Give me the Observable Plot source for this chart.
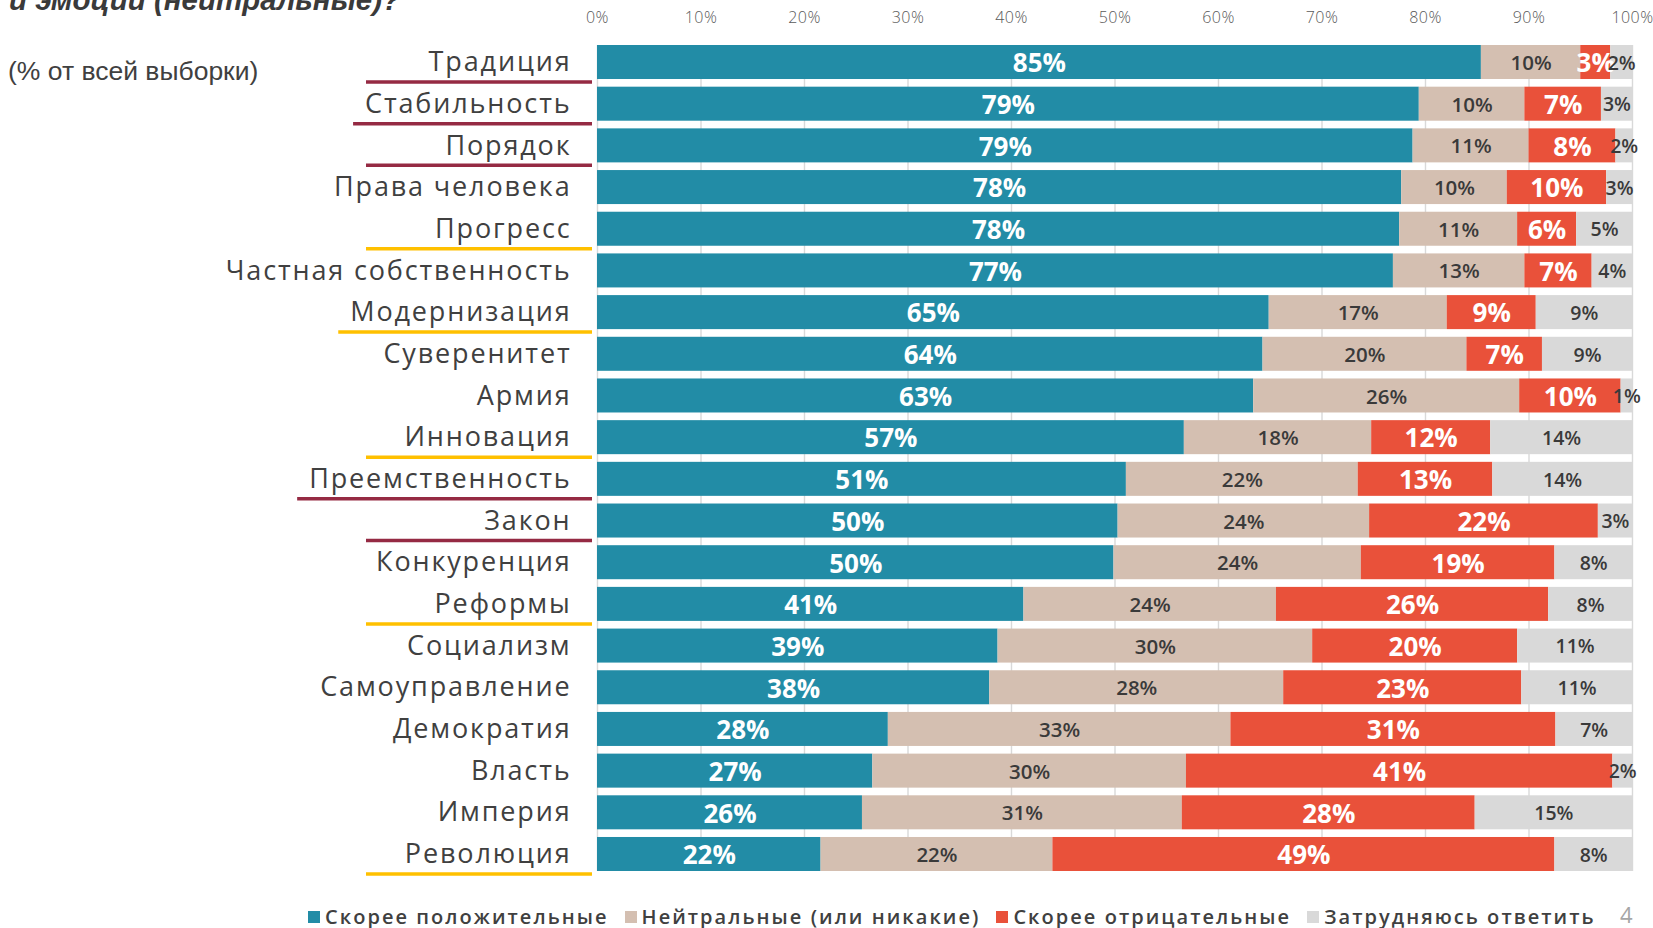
<!DOCTYPE html>
<html lang="ru">
<head>
<meta charset="utf-8">
<script src="https://cdn.jsdelivr.net/npm/d3@7"></script>
<script src="https://cdn.jsdelivr.net/npm/@observablehq/plot@0.6"></script>
<style>
  html, body { margin: 0; padding: 0; background: #fff; overflow: hidden; }
  #page { position: relative; width: 1653px; height: 928px; }
  #title { position: absolute; left: 9px; top: -15px; font: italic bold 29.5px "Liberation Sans", Arial, sans-serif; color: #3a3a3a; line-height: 1; white-space: nowrap; }
  #subtitle { position: absolute; left: 8px; top: 58px; font: 26.5px "Liberation Sans", Arial, sans-serif; color: #404040; line-height: 1; white-space: nowrap; }
  #chart { position: absolute; left: 0; top: 0; }
  #legend { position: absolute; left: 308px; top: 900px; }
  #legend svg { margin-right: 5px !important; }
  #legend div > span { margin-right: 16px !important; }
  #pagenum { position: absolute; left: 1620px; top: 903px; font: 22px "Open Sans", sans-serif; color: #a6a6a6; line-height: 1; }
  g[aria-label="y-axis tick label"] text { letter-spacing: 1.85px; }
  g[aria-label="x-axis tick label"] text { letter-spacing: 0.4px; }
  g[aria-label="big-labels"] text { letter-spacing: 2.5px; }
  g[aria-label="small-labels"] text { letter-spacing: 1.3px; }
</style>
</head>
<body>
<div id="page">
  <div id="chart"></div>
  <div id="title">и эмоций (нейтральные)?</div>
  <div id="subtitle">(% от всей выборки)</div>
  <div id="legend"></div>
  <div id="pagenum">4</div>
</div>
<script>
// ---- Data ----
const categories = [
  "Традиция", "Стабильность", "Порядок", "Права человека", "Прогресс",
  "Частная собственность", "Модернизация", "Суверенитет", "Армия", "Инновация",
  "Преемственность", "Закон", "Конкуренция", "Реформы", "Социализм",
  "Самоуправление", "Демократия", "Власть", "Империя", "Революция"
];
const positive = [85.4, 79.4, 78.8, 77.7, 77.5, 76.9, 64.9, 64.3, 63.4, 56.7, 51.1, 50.3, 49.9, 41.2, 38.7, 37.9, 28.1, 26.6, 25.6, 21.6];
const neutral  = [9.6, 10.2, 11.2, 10.2, 11.4, 12.7, 17.2, 19.7, 25.7, 18.1, 22.4, 24.3, 23.9, 24.4, 30.4, 28.4, 33.1, 30.3, 30.9, 22.4];
const negative = [2.9, 7.4, 8.4, 9.6, 5.7, 6.5, 8.6, 7.3, 9.8, 11.5, 13.0, 22.1, 18.7, 26.3, 19.8, 23.0, 31.4, 41.2, 28.3, 48.5];
const unsure   = [2.1, 3.0, 1.6, 2.5, 5.4, 3.9, 9.3, 8.7, 1.1, 13.7, 13.5, 3.3, 7.5, 8.1, 11.1, 10.7, 7.4, 1.9, 15.2, 7.5];

const seriesNames = ["Скорее положительные", "Нейтральные (или никакие)", "Скорее отрицательные", "Затрудняюсь ответить"];
const seriesColors = ["#228ca6", "#d4bfb1", "#e9513a", "#d9d9d9"];
const xTicks = [0, 10, 20, 30, 40, 50, 60, 70, 80, 90, 100];

const underlineMaroon = ["Традиция", "Стабильность", "Порядок", "Преемственность", "Закон"];
const underlineGold = ["Прогресс", "Модернизация", "Инновация", "Реформы", "Революция"];

// ---- Table built from the arrays ----
const seriesValues = [positive, neutral, negative, unsure];
const rows = [];
categories.forEach((c, i) => {
  let acc = 0;
  seriesNames.forEach((s, j) => {
    const v = seriesValues[j][i];
    rows.push({category: c, series: s, k: j, value: v, x1: acc, x2: acc + v, xm: acc + v / 2});
    acc += v;
  });
});
const lbl = d => Math.round(d.value) + "%";

const chart = Plot.plot({
  width: 1653,
  height: 895,
  marginLeft: 597,
  marginRight: 21,
  marginTop: 45,
  marginBottom: 24,
  style: {fontFamily: "'Open Sans', sans-serif", background: "#fff"},
  x: {domain: [0, 100], axis: null},
  y: {domain: categories, paddingInner: 0.184, paddingOuter: 0, round: false, axis: null},
  color: {domain: seriesNames, range: seriesColors},
  marks: [
    Plot.ruleX(xTicks, {stroke: "#d9d9d9", strokeWidth: 1.4}),
    Plot.barX(rows, {x1: "x1", x2: "x2", y: "category", fill: "series"}),
    Plot.axisX({anchor: "top", ticks: xTicks, tickSize: 0, tickPadding: 23, tickFormat: d => d + "%", fontSize: 16, fill: "#595959", fontWeight: 300}),
    Plot.axisY({tickSize: 0, tickPadding: 26, fontSize: 27, fill: "#404040", label: null}),
    Plot.text(rows.filter(d => d.k === 0 || d.k === 2), {
      x: "xm", y: "category", text: lbl, fill: "white", fontSize: 26, fontWeight: 700, dy: 1.5, ariaLabel: "big-labels"
    }),
    Plot.text(rows.filter(d => d.k === 1), {
      x: "xm", y: "category", text: lbl, fill: "#3a3a3a", fontSize: 20.5, fontWeight: 600, dy: 1, ariaLabel: "small-labels"
    }),
    Plot.text(rows.filter(d => d.k === 3), {
      x: "xm", y: "category", text: lbl, fill: "#3a3a3a", fontSize: 19.5, fontWeight: 600, dy: 1, ariaLabel: "small-labels"
    })
  ]
});
document.getElementById("chart").append(chart);

// ---- Coloured underlines under selected category labels ----
const sy = chart.scale("y");
const svgRect = chart.getBoundingClientRect();
const ug = d3.select(chart).append("g").attr("aria-label", "underlines");
const colorOf = c => underlineMaroon.includes(c) ? "#952a43" : underlineGold.includes(c) ? "#ffc000" : null;
d3.select(chart).selectAll('g[aria-label="y-axis tick label"] text').each(function() {
  const cat = this.textContent;
  const col = colorOf(cat);
  if (!col) return;
  const r = this.getBoundingClientRect();
  const left = Math.min(366, r.left - svgRect.left - 12);
  const y = sy.apply(cat) + sy.bandwidth / 2 + 20;
  ug.append("line")
    .attr("x1", left).attr("x2", 597 - 5)
    .attr("y1", y).attr("y2", y)
    .attr("stroke", col).attr("stroke-width", 3.5);
});

// ---- Legend ----
const legend = Plot.legend({
  color: {domain: seriesNames, range: seriesColors},
  legend: "swatches",
  swatchSize: 12,
  style: {fontFamily: "'Open Sans', sans-serif", fontSize: "20px", fontWeight: 600, color: "#404040", letterSpacing: "2.05px"}
});
document.getElementById("legend").append(legend);
</script>
</body>
</html>
